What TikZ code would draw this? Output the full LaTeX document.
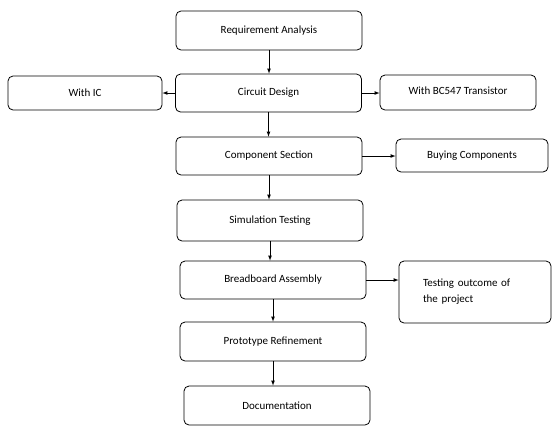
\documentclass[tikz,border=0pt]{standalone}
\usepackage{fontspec}
\setmainfont{Carlito}

\tikzset{
  stage/.style={draw, rounded corners=5pt, line width=0.8pt, minimum width=186pt,
    minimum height=39pt, inner sep=2pt, font=\fontsize{11}{13}\selectfont},
  side/.style={stage, minimum width=154pt, minimum height=34pt},
  flow/.style={-latex, line width=0.7pt},
}

\begin{document}
\begin{tikzpicture}[x=1pt, y=-1pt]
  \path[use as bounding box] (0,0) rectangle (556,432);

  % main chain
  \node[stage] (req)   at (269,30.5) {Requirement Analysis};
  \node[stage, minimum height=38pt] (cd) at (268.5,93) {Circuit Design};
  \node[stage, minimum height=38pt] (cs) at (269,156) {Component Section};
  \node[stage, minimum height=41pt] (sim) at (270,220.5) {Simulation Testing};
  \node[stage, minimum height=38pt] (bread) at (273,280) {Breadboard Assembly};
  \node[stage] (proto) at (273,341.5) {Prototype Refinement};
  \node[stage] (doc)   at (277,405.5) {Documentation};

  % side boxes
  \node[side] (ic)  at (85,93) {With IC};
  \node[side, minimum width=156pt, minimum height=35pt] (bc) at (458,92.5) {\raisebox{4pt}{With BC547 Transistor}};
  \node[side, minimum width=152pt, minimum height=33pt] (buy) at (472,155.5) {Buying Components};
  \node[side, minimum width=152pt, minimum height=62pt, text width=104pt, inner xsep=24pt,
    align=left, font=\fontsize{11}{16}\selectfont] (test) at (475,292)
    {Testing outcome of\\ the project\\[3pt]};

  % connectors
  \draw[flow] (req.south) -- (req.south |- cd.north);
  \draw[flow] (cd.south) -- (cd.south |- cs.north);
  \draw[flow] (cs.south) -- (cs.south |- sim.north);
  \draw[flow] (sim.south) -- (sim.south |- bread.north);
  \draw[flow] (bread.south) -- (bread.south |- proto.north);
  \draw[flow] (proto.south) -- (proto.south |- doc.north);
  \draw[flow] (cd.west) -- (ic.east);
  \draw[flow] (cd.east) -- (cd.east -| bc.west);
  \draw[flow] (cs.east) -- (cs.east -| buy.west);
  \draw[flow] (bread.east) -- (bread.east -| test.west);
\end{tikzpicture}
\end{document}
